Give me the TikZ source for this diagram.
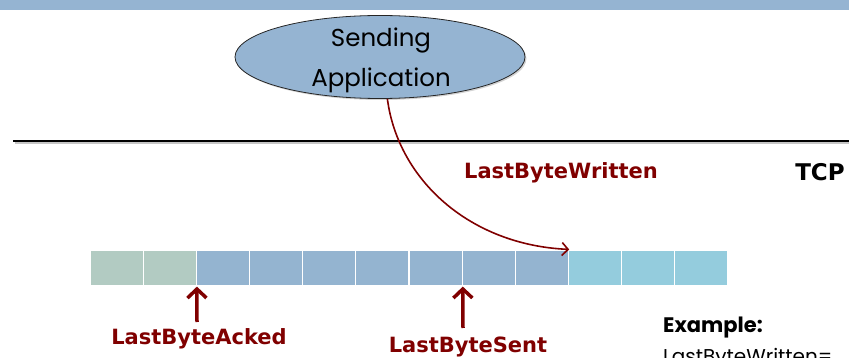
\documentclass[tikz,border=0pt]{standalone}
\usepackage{fontspec}
\setmainfont{Poppins}
\newfontfamily\comic{DejaVu Sans}
\usetikzlibrary{arrows.meta,shapes.geometric,shadows}
\definecolor{banner}{RGB}{149,180,210}
\definecolor{appfill}{RGB}{149,180,210}
\definecolor{cgreen}{RGB}{178,203,194}
\definecolor{cblue}{RGB}{148,180,208}
\definecolor{ccyan}{RGB}{148,204,221}
\definecolor{dred}{RGB}{128,0,0}
\begin{document}
\begin{tikzpicture}[x=1pt,y=-1pt,
  cell/.style={rectangle, draw=white, line width=1.2pt, minimum width=53.17pt, minimum height=36pt, inner sep=0pt},
  lbl/.style={font=\comic\bfseries\fontsize{21}{25}\selectfont, text=dred, inner sep=0pt},
  uparrow/.style={draw=dred, line width=3.5pt, -{Straight Barb[length=9pt,width=19pt]}},
  curvearrow/.style={draw=dred, line width=1.6pt, -{Straight Barb[length=6pt,width=13pt]}},
  appnode/.style={ellipse, minimum width=290pt, minimum height=83pt, inner sep=0pt, fill=appfill,
    draw=black!85, line width=0.8pt,
    drop shadow={shadow xshift=1.5pt, shadow yshift=-1.5pt, opacity=0.35}}]
\useasboundingbox (0,0) rectangle (849,358);
\clip (0,0) rectangle (849,358);
% banner
\fill[banner] (0,0) rectangle (849,10);
% separator line with shadow
\draw[gray!45, line width=2pt] (15,143.5) -- (851,143.5);
\draw[black, line width=2pt] (13,141) -- (849,141);
% application
\node[appnode] (app) at (380,57) {};
\node[font=\fontsize{24.5}{40}\selectfont, align=center, inner sep=0pt] (apptext) at (381,60) {Sending\\Application};
% buffer cells
\foreach \i/\col in {1/cgreen,2/cgreen,3/cblue,4/cblue,5/cblue,6/cblue,7/cblue,8/cblue,9/cblue,10/ccyan,11/ccyan,12/ccyan}{
  \node[cell, fill=\col] (c\i) at ({90+(\i-0.5)*53.17},268) {};
}
% labels
\node[lbl] (lbw) at (561,173) {LastByteWritten};
\node[font=\comic\bfseries\fontsize{23}{27}\selectfont, inner sep=0pt] (tcp) at (820,172) {TCP};
\node[lbl] (ack) at (199,339) {LastByteAcked};
\node[lbl] (sent) at (468,347) {LastByteSent};
\node[font=\bfseries\fontsize{21}{25}\selectfont, anchor=west, inner sep=0pt] (ex) at (663,328) {Example:};
\node[font=\fontsize{20}{24}\selectfont, anchor=north west, inner sep=0pt] (exl) at (663,348) {LastByteWritten=};
% arrows
\coordinate (ackbase) at (197,322);
\coordinate (sentbase) at (463,328);
\draw[uparrow] (ackbase) -- (c2.south east);
\draw[uparrow] (sentbase) -- (c7.south east);
\draw[curvearrow] (app.-80) .. controls (398,180) and (470,245) .. (c9.north east);
\end{tikzpicture}
\end{document}
